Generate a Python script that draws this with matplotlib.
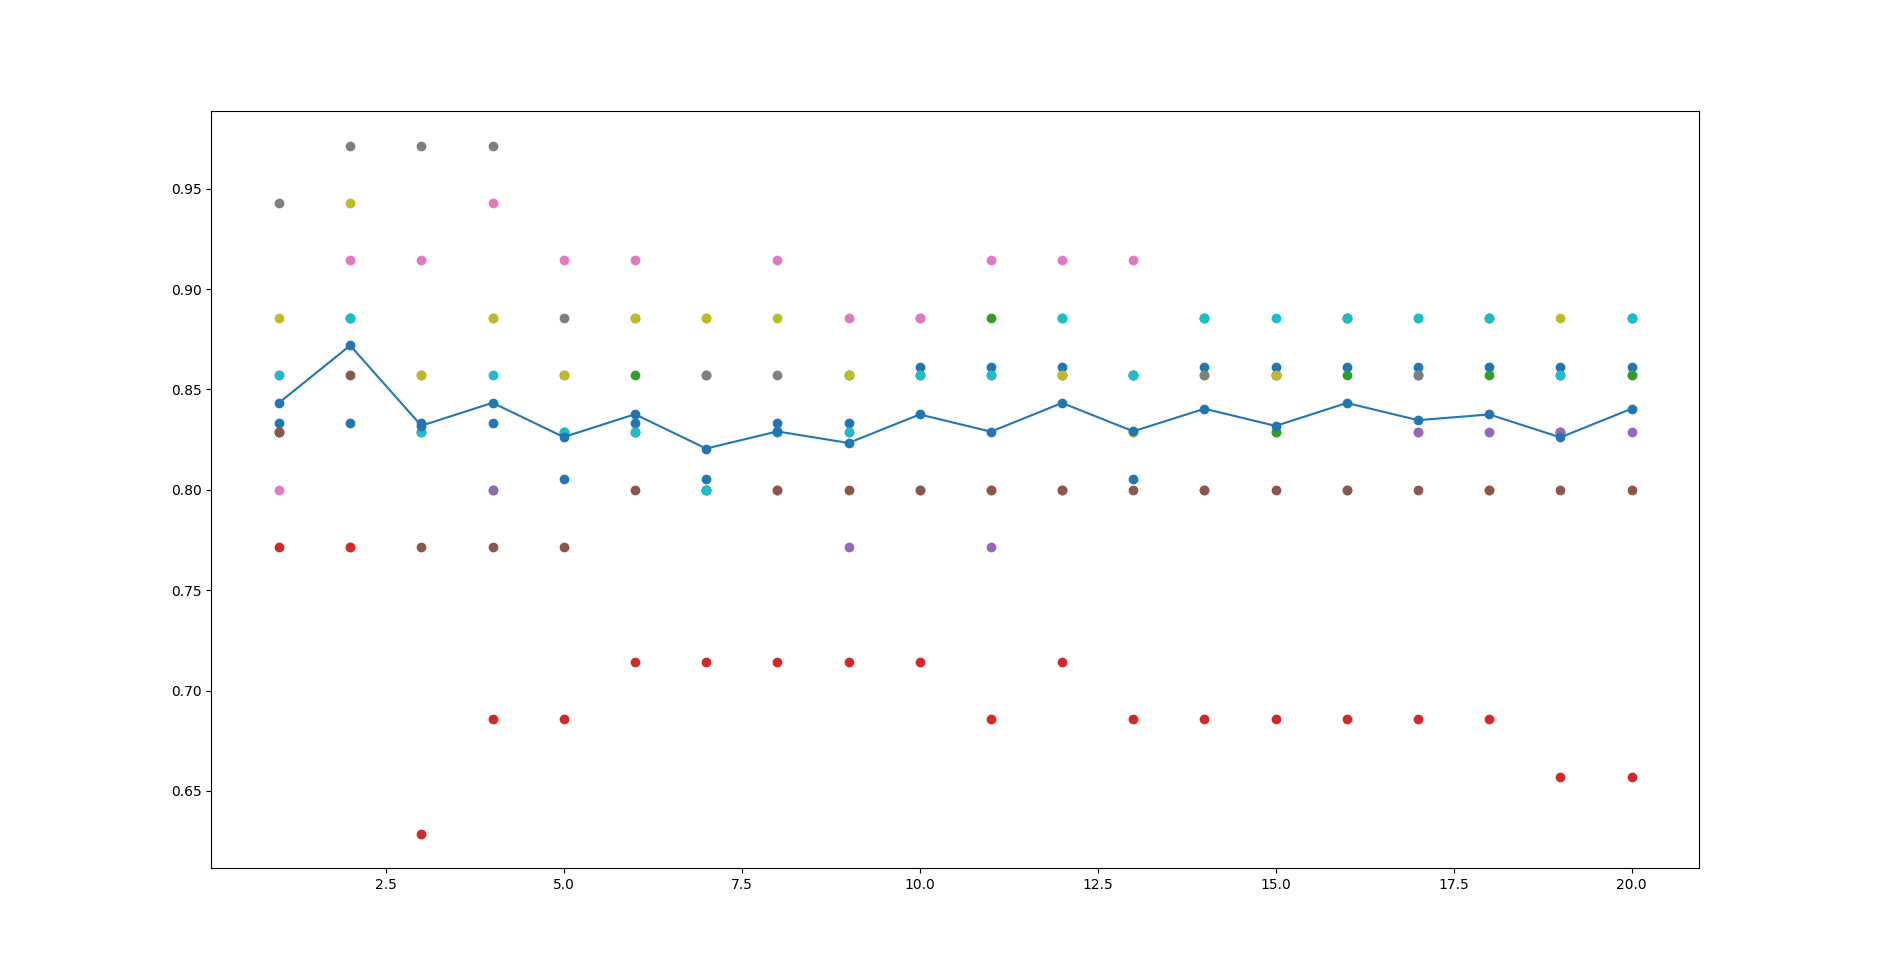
import numpy as np
import matplotlib
matplotlib.use("Agg")
import matplotlib.pyplot as plt

# number of neighbours tried
ks = list(range(1, 21))

# cross-validation score of each fold for every k
fold_0 = [0.8333, 0.8333, 0.8333, 0.8333, 0.8056, 0.8333, 0.8056, 0.8333, 0.8333, 0.8611,
          0.8611, 0.8611, 0.8056, 0.8611, 0.8611, 0.8611, 0.8611, 0.8611, 0.8611, 0.8611]
fold_1 = [0.8571, 0.7714, 0.8286, 0.8857, 0.8286, 0.8286, 0.8000, 0.8286, 0.8286, 0.8571,
          0.8000, 0.8571, 0.8286, 0.8857, 0.8286, 0.8857, 0.8286, 0.8000, 0.8286, 0.8571]
fold_2 = [0.8286, 0.8857, 0.8286, 0.8000, 0.8286, 0.8571, 0.8571, 0.8286, 0.8571, 0.8857,
          0.8857, 0.8000, 0.8571, 0.8571, 0.8286, 0.8571, 0.8571, 0.8571, 0.8286, 0.8571]
fold_3 = [0.7714, 0.7714, 0.6286, 0.6857, 0.6857, 0.7143, 0.7143, 0.7143, 0.7143, 0.7143,
          0.6857, 0.7143, 0.6857, 0.6857, 0.6857, 0.6857, 0.6857, 0.6857, 0.6571, 0.6571]
fold_4 = [0.8286, 0.8857, 0.8571, 0.8000, 0.8571, 0.8286, 0.8000, 0.8000, 0.7714, 0.8000,
          0.7714, 0.8571, 0.8571, 0.8000, 0.8571, 0.8000, 0.8286, 0.8286, 0.8286, 0.8286]
fold_5 = [0.8286, 0.8571, 0.7714, 0.7714, 0.7714, 0.8000, 0.8000, 0.8000, 0.8000, 0.8000,
          0.8000, 0.8000, 0.8000, 0.8000, 0.8000, 0.8000, 0.8000, 0.8000, 0.8000, 0.8000]
fold_6 = [0.8000, 0.9143, 0.9143, 0.9429, 0.9143, 0.9143, 0.8857, 0.9143, 0.8857, 0.8857,
          0.9143, 0.9143, 0.9143, 0.8857, 0.8571, 0.8857, 0.8571, 0.8857, 0.8571, 0.8857]
fold_7 = [0.9429, 0.9714, 0.9714, 0.9714, 0.8857, 0.8857, 0.8571, 0.8571, 0.8571, 0.8571,
          0.8571, 0.8857, 0.8571, 0.8571, 0.8571, 0.8857, 0.8571, 0.8857, 0.8571, 0.8857]
fold_8 = [0.8857, 0.9429, 0.8571, 0.8857, 0.8571, 0.8857, 0.8857, 0.8857, 0.8571, 0.8571,
          0.8571, 0.8571, 0.8286, 0.8857, 0.8571, 0.8857, 0.8857, 0.8857, 0.8857, 0.8857]
fold_9 = [0.8571, 0.8857, 0.8286, 0.8571, 0.8286, 0.8286, 0.8000, 0.8286, 0.8286, 0.8571,
          0.8571, 0.8857, 0.8571, 0.8857, 0.8857, 0.8857, 0.8857, 0.8857, 0.8571, 0.8857]

folds = [fold_0, fold_1, fold_2, fold_3, fold_4, fold_5, fold_6, fold_7, fold_8, fold_9]


def main():
    fig = plt.figure(figsize=(18.77, 9.61), dpi=100)
    fig.subplots_adjust(left=0.1126, right=0.9053, top=0.8842, bottom=0.0965)

    for i, scores in enumerate(folds):
        plt.scatter(ks, scores, color=f"C{i}")

    mean_scores = np.mean(np.array(folds), axis=0)
    plt.plot(ks, mean_scores, "o-", color="C0")

    plt.savefig("out.png", dpi=100)


if __name__ == "__main__":
    main()
